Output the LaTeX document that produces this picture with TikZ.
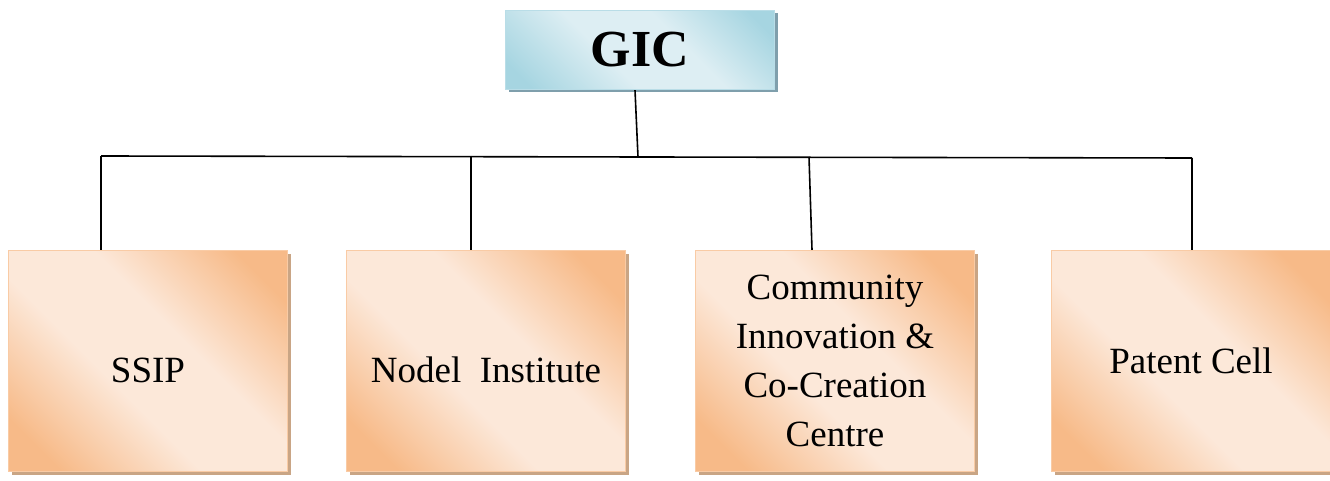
\documentclass[tikz,border=0pt]{standalone}
\usepackage{fontspec}
\setmainfont{Liberation Serif}
\usetikzlibrary{shadows}
\definecolor{orgDark}{HTML}{F7BA88}
\definecolor{orgLight}{HTML}{FCE8D9}
\definecolor{orgEdge}{HTML}{F9CBA5}
\definecolor{orgShade}{HTML}{C9A585}
\definecolor{gicDark}{HTML}{A6D5E1}
\definecolor{gicLight}{HTML}{DDEEF3}
\definecolor{gicEdge}{HTML}{B9DDE7}
\definecolor{gicShade}{HTML}{7F9FAC}
\pgfdeclarehorizontalshading{orgband}{100bp}{color(0bp)=(orgDark); color(22bp)=(orgDark); color(42bp)=(orgLight); color(58bp)=(orgLight); color(78bp)=(orgDark); color(100bp)=(orgDark)}
\pgfdeclarehorizontalshading{gicband}{100bp}{color(0bp)=(gicDark); color(20bp)=(gicDark); color(42bp)=(gicLight); color(60bp)=(gicLight); color(80bp)=(gicDark); color(100bp)=(gicDark)}
\tikzset{
  unitbox/.style={rectangle, shading=orgband, shading angle=45, draw=orgEdge, line width=1.2pt,
    minimum width=279pt, minimum height=221pt, inner sep=0pt, align=center,
    font=\fontsize{37}{49}\selectfont,
    drop shadow={shadow xshift=3pt, shadow yshift=-3pt, fill=orgShade, opacity=1}},
  headbox/.style={rectangle, shading=gicband, shading angle=45, draw=gicEdge, line width=1.2pt,
    minimum width=269pt, minimum height=79pt, inner sep=0pt,
    font=\fontsize{52}{60}\selectfont\bfseries,
    drop shadow={shadow xshift=3pt, shadow yshift=-3pt, fill=gicShade, opacity=1}},
  link/.style={draw=black, line width=1.6pt}
}
\begin{document}
\begin{tikzpicture}[x=1pt,y=-1pt]
\useasboundingbox (0,0) rectangle (1330,481);
\node[headbox] (gic) at (640,50){GIC};
\node[unitbox] (ssip) at (148,361){\raisebox{-21pt}[0pt][0pt]{SSIP}};
\node[unitbox] (nodel) at (486,361){\raisebox{-21pt}[0pt][0pt]{Nodel\ \ Institute}};
\node[unitbox] (cicc) at (835,361){Community\\Innovation \&\\Co-Creation\\Centre};
\node[unitbox] (patent) at (1191,361){Patent Cell};
\coordinate (b0) at (638,157);
\coordinate (b1) at (101,156);
\coordinate (b2) at (471,156);
\coordinate (b3) at (809,157);
\coordinate (b4) at (1192,158);
\draw[link] ([xshift=-5pt]gic.south) -- (b0);
\draw[link] (b1) -- (b4);
\draw[link] (b1) -- (b1 |- ssip.north);
\draw[link] (b2) -- (b2 |- nodel.north);
\draw[link] (b3) -- ([xshift=-23pt]cicc.north);
\draw[link] (b4) -- (b4 |- patent.north);
\end{tikzpicture}
\end{document}
